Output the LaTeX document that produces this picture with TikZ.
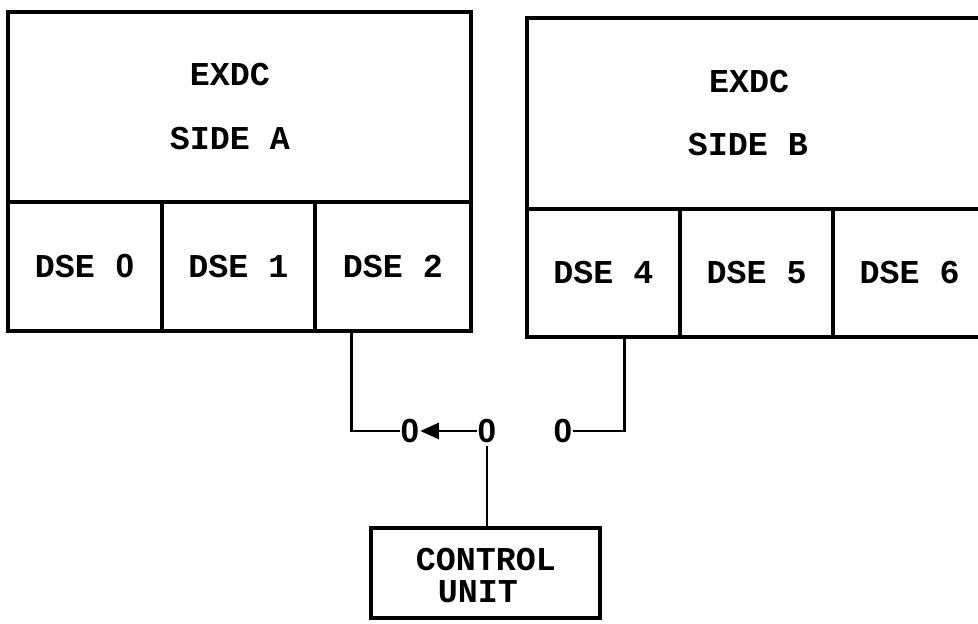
\documentclass[tikz,border=0pt]{standalone}
\usepackage{fontspec}
\newfontfamily\plotfont{Liberation Mono}
\newfontfamily\zerofont{Liberation Sans}
\newcommand{\zr}{\makebox[0.6em]{\zerofont\bfseries 0}}
\usetikzlibrary{arrows.meta,calc}
\begin{document}
\begin{tikzpicture}[x=0.75pt,y=-0.75pt,
  box/.style={draw=black, line width=2.4pt, rectangle, inner sep=0pt},
  lbl/.style={font=\plotfont\bfseries\fontsize{25}{30}\selectfont, inner sep=0pt},
  sw/.style={font=\plotfont\bfseries\fontsize{25}{30}\selectfont, inner sep=0pt},
  wire/.style={draw=black, line width=2.2pt}]
\useasboundingbox (0,0) rectangle (978,624);
\clip (0,0) rectangle (978,624);
% Side A
\node[box, minimum width=463*0.75pt, minimum height=190*0.75pt] (exdcA) at (239.5,107) {};
\node[lbl] (exdcAt) at (230,75) {EXDC};
\node[lbl] (sideAt) at (230,139) {SIDE A};
\node[box, minimum width=154*0.75pt, minimum height=129*0.75pt] (dse0) at (85,266.5) {};
\node[box, minimum width=153*0.75pt, minimum height=129*0.75pt] (dse1) at (238.5,266.5) {};
\node[box, minimum width=156*0.75pt, minimum height=129*0.75pt] (dse2) at (393,266.5) {};
\node[lbl] at (dse0) {DSE \zr};
\node[lbl] at (dse1) {DSE 1};
\node[lbl] at (dse2) {DSE 2};
% Side B
\node[box, minimum width=459*0.75pt, minimum height=191*0.75pt] (exdcB) at (756.5,113.5) {};
\node[lbl] (exdcBt) at (749,82) {EXDC};
\node[lbl] (sideBt) at (748,145) {SIDE B};
\node[box, minimum width=153*0.75pt, minimum height=128*0.75pt] (dse4) at (603.5,273) {};
\node[box, minimum width=153*0.75pt, minimum height=128*0.75pt] (dse5) at (756.5,273) {};
\node[box, minimum width=153*0.75pt, minimum height=128*0.75pt] (dse6) at (909.5,273) {};
\node[lbl] at (dse4) {DSE 4};
\node[lbl] at (dse5) {DSE 5};
\node[lbl] at (dse6) {DSE 6};
% switch contacts
\node[sw] (p0) at (410,431) {\zr};
\node[sw] (p1) at (487,431) {\zr};
\node[sw] (p2) at (563,431) {\zr};
% control unit
\node[box, minimum width=229*0.75pt, minimum height=90*0.75pt] (cu) at (485.5,573) {};
\node[lbl] at (486,560) {CONTROL};
\node[lbl] at (478,592) {UNIT};
% connectors
\draw[wire] ($(dse2.south west)+(38,0)$) |- (p0.west);
\draw[wire] ($(dse4.south east)+(-57,0)$) |- (p2.east);
\draw[wire, -{Triangle[length=14pt,width=12pt]}] (p1.west) -- (p0.east);
\draw[wire] ($(p1.south)+(0,3)$) -- (p1.south |- cu.north);
\end{tikzpicture}
\end{document}
